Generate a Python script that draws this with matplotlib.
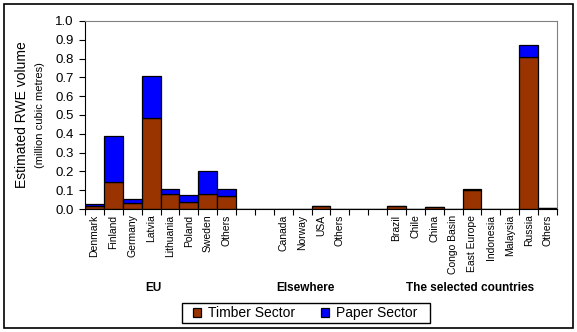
import matplotlib.pyplot as plt
import matplotlib
from matplotlib.patches import Rectangle
import numpy as np

matplotlib.rcParams.update({
    "font.family": ["Liberation Sans", "DejaVu Sans"], "font.size": 8,
})

# categories; empty strings are the gaps between groups
countries = ["Denmark", "Finland", "Germany", "Latvia", "Lithuania", "Poland", "Sweden", "Others",
             "", "",
             "Canada", "Norway", "USA", "Others",
             "", "",
             "Brazil", "Chile", "China", "Congo Basin", "East Europe", "Indonesia", "Malaysia",
             "Russia", "Others"]
timber = [0.018, 0.145, 0.033, 0.482, 0.078, 0.035, 0.082, 0.067,
          0, 0,
          0, 0, 0.018, 0,
          0, 0,
          0.018, 0, 0.01, 0, 0.1, 0, 0, 0.81, 0.004]
paper = [0.006, 0.245, 0.019, 0.223, 0.027, 0.037, 0.118, 0.038,
         0, 0,
         0, 0, 0, 0,
         0, 0,
         0, 0, 0, 0, 0.005, 0, 0, 0.062, 0]
groups = ["EU", "Elsewhere", "The selected countries"]
group_pos = [3.1, 11.2, 19.9]

W, H = 577, 332
fig = plt.figure(figsize=(W / 100, H / 100), dpi=100)
fig.patches.append(Rectangle((4 / W, 4 / H), 569 / W, 324 / H, transform=fig.transFigure,
                             fill=False, edgecolor="black", linewidth=1.2))

ax = fig.add_axes([85 / W, (H - 209) / H, 472 / W, 188 / H])
x = np.arange(len(countries))
ax.bar(x, timber, width=1.0, color="#993300", edgecolor="black", linewidth=0.9,
       label="Timber Sector")
ax.bar(x, paper, width=1.0, bottom=timber, color="#0000FF", edgecolor="black",
       linewidth=0.9, label="Paper Sector")

ax.set_xlim(-0.5, len(countries) - 0.5)
ax.set_ylim(0, 1.0)
ax.set_yticks(np.arange(0, 1.01, 0.1))
ax.set_yticklabels([f"{v:.1f}" for v in np.arange(0, 1.01, 0.1)], fontsize=9.5)
ax.tick_params(axis="y", length=4, width=0.8, pad=4)

ax.set_xticks(x)
ax.set_xticklabels(countries, rotation=90, fontsize=7.5, va="top")
ax.tick_params(axis="x", length=0, pad=4)
ax.set_xticks(np.arange(-0.5, len(countries)), minor=True)
ax.tick_params(axis="x", which="minor", length=4, width=0.8)

for s in ["top", "right"]:
    ax.spines[s].set_color("gray")
for s in ["left", "bottom"]:
    ax.spines[s].set_color("black")

for g, p in zip(groups, group_pos):
    ax.text(p, -0.42, g, transform=ax.get_xaxis_transform(), ha="center", va="center",
            fontsize=8.5, fontweight="bold")

fig.text(22 / W, 1 - 115 / H, "Estimated RWE volume", rotation=90, ha="center",
         va="center", fontsize=10)
fig.text(40 / W, 1 - 115 / H, "(million cubic metres)", rotation=90, ha="center",
         va="center", fontsize=8)

# legend with a hand-drawn frame to match the box size
leg = fig.legend(loc="center", bbox_to_anchor=(305 / W, 1 - 313 / H), ncol=2,
                 fontsize=10, frameon=False,
                 handlelength=0.6, handleheight=0.6, handletextpad=0.45,
                 columnspacing=1.9, borderpad=0.3)
fig.patches.append(Rectangle((182 / W, 1 - 323 / H), 248 / W, 20 / H,
                             transform=fig.transFigure, fill=False,
                             edgecolor="black", linewidth=1))

fig.savefig("out.png", dpi=100)
